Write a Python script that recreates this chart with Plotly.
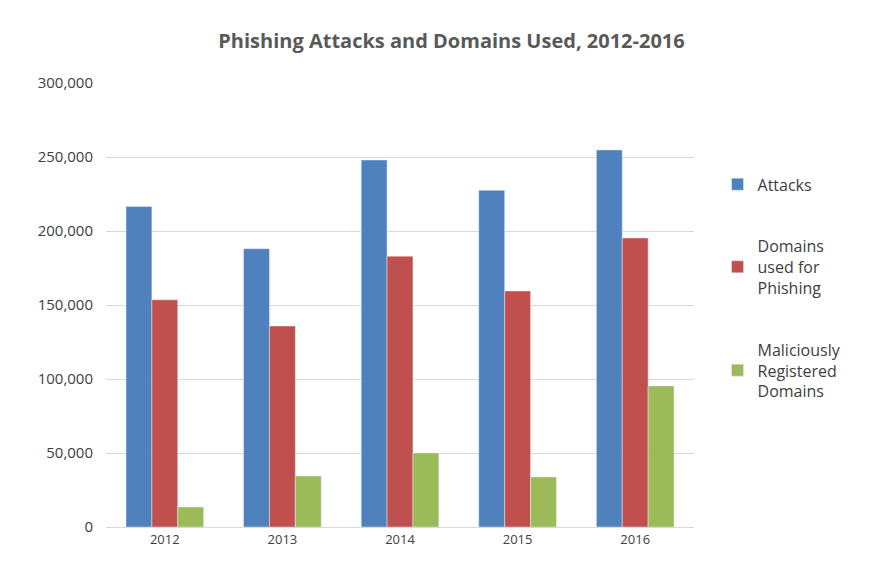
import plotly.graph_objects as go

years = ["2012", "2013", "2014", "2015", "2016"]
attacks = [216500, 188000, 248000, 227500, 254800]
domains = [153500, 135800, 183000, 159500, 195300]
malicious = [13500, 34500, 50000, 33800, 95300]

font = "Open Sans, Liberation Sans, sans-serif"

fig = go.Figure()
fig.add_bar(x=years, y=attacks, name="Attacks", marker_color="#4F81BD", legendgroup="a")
fig.add_bar(x=years, y=domains, name="Domains<br>used for<br>Phishing", marker_color="#C0504D", legendgroup="b")
fig.add_bar(x=years, y=malicious, name="Maliciously<br>Registered<br>Domains", marker_color="#9BBB59", legendgroup="c")

fig.update_layout(
    width=887, height=568,
    paper_bgcolor="white", plot_bgcolor="white",
    font=dict(family=font, color="#404040"),
    title=dict(text="<b>Phishing Attacks and Domains Used, 2012-2016</b>",
               x=0.5, xanchor="center", y=0.942, yanchor="middle",
               font=dict(size=20, color="#595959")),
    barmode="group", bargap=0.34, bargroupgap=0,
    margin=dict(l=98, r=201, t=75, b=49, autoexpand=False),
    legend=dict(x=1.04, y=0.81, yanchor="top", valign="middle",
                font=dict(size=16, color="#404040"), tracegroupgap=38),
    xaxis=dict(showline=True, linecolor="#D9D9D9", tickfont=dict(size=13), ticks=""),
    yaxis=dict(range=[0, 300000], dtick=50000, tickformat=",", gridcolor="#D9D9D9",
               tickfont=dict(size=15), zeroline=False, automargin=False,
               ticklabelstandoff=12),
)
fig.write_html("out.html")
